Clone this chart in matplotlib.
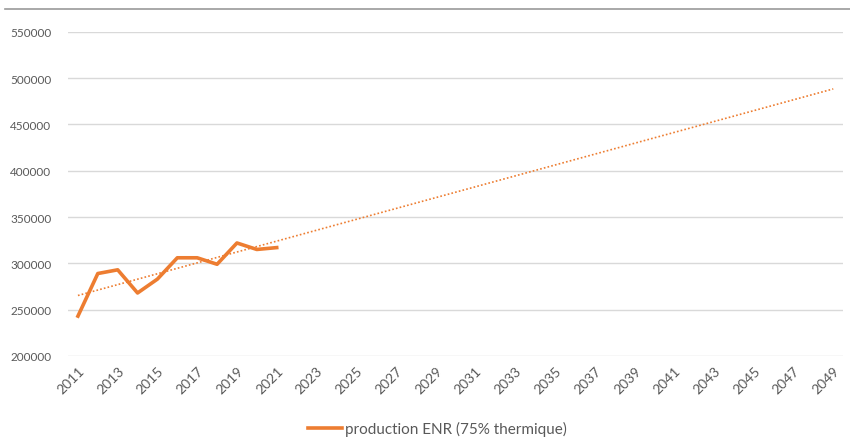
import numpy as np
import matplotlib.pyplot as plt
from matplotlib.lines import Line2D

# production ENR (MWh), années observées
years = list(range(2011, 2022))
production = [243000, 289000, 293000, 268000, 283000, 306000, 306000, 299000, 322000, 315000, 317000]

# horizon de projection
all_years = list(range(2011, 2050))
y_ticks = [200000, 250000, 300000, 350000, 400000, 450000, 500000, 550000]

orange = "#ED7D31"
grey = "#595959"

plt.rcParams["font.family"] = ["Lato", "DejaVu Sans"]

fig = plt.figure(figsize=(8.5, 4.39), dpi=100)
ax = fig.add_axes([0.08, 0.187, 0.912, 0.738])

x_obs = np.arange(len(years))
x_all = np.arange(len(all_years))

ax.plot(x_obs, production, color=orange, lw=2.6, solid_joinstyle="round", zorder=3)

# tendance linéaire prolongée jusqu'en 2049
coef = np.polyfit(x_obs, production, 1)
ax.plot(x_all, np.polyval(coef, x_all), color=orange, lw=1.2, ls=(0, (1, 1.3)), zorder=2)

ax.set_xlim(-0.5, len(all_years) - 0.5)
ax.set_ylim(200000, 550000)
ax.set_yticks(y_ticks)
ax.set_yticklabels([str(v) for v in y_ticks], fontsize=8.5, color=grey)
ax.set_xticks(x_all[::2])
ax.set_xticklabels([str(y) for y in all_years[::2]], rotation=45, ha="right",
                   rotation_mode="anchor", fontsize=10, color=grey)
ax.tick_params(length=0)
ax.tick_params(axis="y", pad=12)
ax.tick_params(axis="x", pad=6)
ax.grid(axis="y", color="#D9D9D9", lw=1)
ax.set_axisbelow(True)
for s in ax.spines.values():
    s.set_visible(False)

fig.add_artist(Line2D([0.006, 1.0], [0.977, 0.977], color="#9A9A9A", lw=1.2))

leg_handle = Line2D([], [], color=orange, lw=2.6)
fig.legend([leg_handle], ["production ENR (75% thermique)"], loc="center",
           bbox_to_anchor=(0.515, 0.022), frameon=False, fontsize=11,
           handlelength=2.2, handletextpad=0.2, labelcolor=grey)

fig.savefig("out.png", dpi=100)
